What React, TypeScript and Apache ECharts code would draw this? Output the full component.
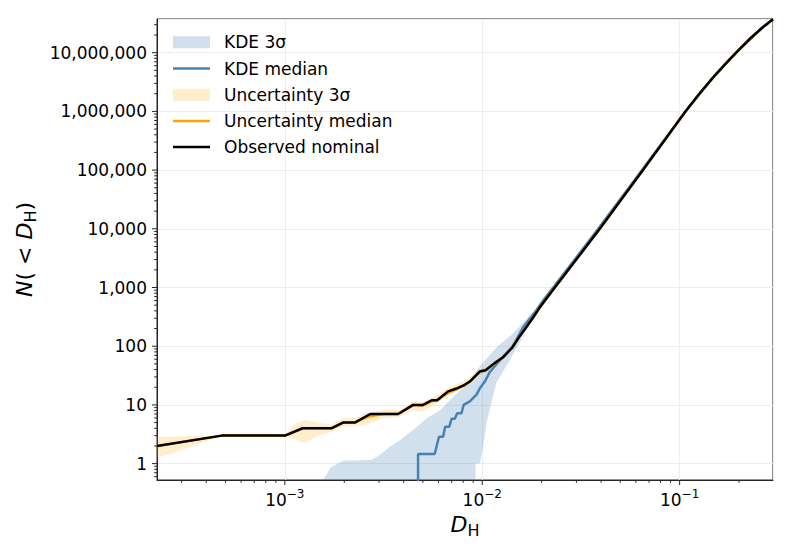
import React, { useEffect, useRef } from "react";
import * as echarts from "echarts";

const FONT = "DejaVu Sans";

// Observed nominal
const obsD = [2.25e-4, 4.79e-4, 1.0e-3, 1.23e-3, 1.72e-3, 1.97e-3, 2.26e-3, 2.71e-3, 3.75e-3, 4.47e-3, 5.01e-3, 5.55e-3, 5.91e-3, 6.71e-3, 7.4e-3, 8.15e-3, 8.65e-3, 9.71e-3, 1.04e-2, 1.16e-2, 1.27e-2, 1.42e-2, 1.53e-2, 1.67e-2, 1.8e-2, 1.95e-2, 2.33e-2, 3.94e-2, 6.52e-2, 0.0832, 0.107, 0.1259, 0.1479, 0.1738, 0.1995, 0.2291, 0.263, 0.2972];
const obsN = [2, 3, 3, 4, 4, 5, 5, 7, 7, 10, 10, 12, 12, 17, 19, 22, 25, 37, 39, 52, 64, 95, 140, 210, 300, 450, 1000, 1e4, 1e5, 3.1e5, 1e6, 2.0e6, 3.8e6, 6.92e6, 1.12e7, 1.78e7, 2.69e7, 3.72e7];

// Uncertainty median
const uncMedD = [2.25e-4, 4.79e-4, 1.0e-3, 1.23e-3, 1.72e-3, 1.97e-3, 2.26e-3, 2.64e-3, 3.15e-3, 3.75e-3, 4.47e-3, 5.01e-3, 5.55e-3, 5.91e-3, 6.71e-3, 7.4e-3, 8.15e-3, 8.65e-3, 9.71e-3, 1.04e-2, 1.16e-2, 1.27e-2, 1.42e-2, 1.53e-2, 1.67e-2, 1.8e-2, 1.95e-2, 2.33e-2, 3.94e-2, 6.52e-2, 0.0832, 0.107, 0.1259, 0.1479, 0.1738, 0.1995, 0.2291, 0.263, 0.2972];
const uncMedN = [2, 3, 3, 4, 4, 5, 5, 6.3, 7, 7, 10, 9.8, 11.5, 12, 16, 18.5, 22, 25, 37, 39, 52, 64, 95, 140, 210, 300, 450, 1000, 1e4, 1e5, 3.1e5, 1e6, 2.0e6, 3.8e6, 6.92e6, 1.12e7, 1.78e7, 2.69e7, 3.72e7];

// Uncertainty 3 sigma band
const uncBandD = [2.25e-4, 3.3e-4, 4.79e-4, 1.0e-3, 1.12e-3, 1.26e-3, 1.47e-3, 1.72e-3, 1.97e-3, 2.26e-3, 2.59e-3, 3.15e-3, 3.82e-3, 4.47e-3, 5.01e-3, 5.86e-3, 6.84e-3, 8.31e-3, 9.48e-3, 1.04e-2, 1.27e-2, 1.67e-2, 2.33e-2, 3.94e-2, 6.52e-2, 0.107, 0.1479, 0.1995, 0.263, 0.2972];
const uncUpper = [2.85, 2.95, 3.0, 3.0, 4.8, 5.5, 5.0, 4.6, 5.9, 6.0, 7.2, 8.2, 8.2, 11.3, 11.3, 14.7, 20.4, 26.6, 38, 44, 70, 225, 1060, 1.02e4, 1.01e5, 1.0e6, 3.8e6, 1.12e7, 2.69e7, 3.72e7];
const uncLower = [1.26, 1.9, 3.0, 3.0, 2.6, 2.24, 3.0, 3.5, 4.25, 4.3, 4.6, 5.9, 6.3, 8.2, 7.7, 10.6, 14.7, 20.4, 31, 35, 58, 195, 950, 0.98e4, 0.99e5, 1.0e6, 3.8e6, 1.12e7, 2.69e7, 3.72e7];

// KDE 3 sigma band
const kdeUpperD = [1.42e-3, 1.71e-3, 1.97e-3, 2.72e-3, 3.03e-3, 3.4e-3, 3.69e-3, 4.15e-3, 4.66e-3, 5.23e-3, 6.09e-3, 7.09e-3, 8.35e-3, 9.71e-3, 1.18e-2, 1.43e-2, 1.74e-2, 2.07e-2, 2.47e-2, 3.94e-2, 6.52e-2, 0.107, 0.1479, 0.1995, 0.263, 0.2972];
const kdeUpperN = [0.3, 0.87, 1.12, 1.15, 1.4, 1.94, 2.3, 3.1, 4.2, 5.9, 8, 13.5, 22, 45, 95, 165, 330, 600, 1300, 1.1e4, 1.06e5, 1.02e6, 3.85e6, 1.13e7, 2.7e7, 3.72e7];
const kdeLowerD = [1.42e-3, 9.16e-3, 9.27e-3, 9.71e-3, 9.83e-3, 1.01e-2, 1.05e-2, 1.12e-2, 1.18e-2, 1.38e-2, 1.61e-2, 1.88e-2, 2.2e-2, 2.47e-2, 3.94e-2, 6.52e-2, 0.107, 0.1479, 0.1995, 0.263, 0.2972];
const kdeLowerN = [0.1, 0.1, 1.0, 1.0, 1.2, 1.9, 4.9, 12, 24, 58, 146, 415, 750, 1150, 0.95e4, 0.97e5, 0.98e6, 3.75e6, 1.11e7, 2.68e7, 3.72e7];

// KDE median
const kdeMedD = [4.73e-3, 4.73e-3, 5.74e-3, 6.04e-3, 6.33e-3, 6.49e-3, 6.81e-3, 6.99e-3, 7.26e-3, 7.47e-3, 7.85e-3, 8.05e-3, 8.65e-3, 9.35e-3, 9.71e-3, 1.03e-2, 1.09e-2, 1.23e-2, 1.43e-2, 1.61e-2, 1.88e-2, 2.07e-2, 2.33e-2, 3.94e-2, 6.52e-2, 0.107, 0.1479, 0.1995, 0.263, 0.2972];
const kdeMedN = [0.1, 1.46, 1.46, 2.87, 2.87, 4.25, 4.25, 5.8, 5.8, 7.2, 7.2, 10, 11.5, 15, 19, 25, 36, 58, 100, 210, 410, 650, 1080, 1.08e4, 1.05e5, 1.0e6, 3.8e6, 1.12e7, 2.69e7, 3.72e7];

const legendLabels = ["KDE 3σ", "KDE median", "Uncertainty 3σ", "Uncertainty median", "Observed nominal"];

const X_MIN = 2.25e-4;
const X_MAX = 0.2972;
const Y_MIN = 0.526;
const Y_MAX = 3.75e7;

const KDE_COLOR = "#4682b4";
const KDE_FILL = "rgba(70,130,180,0.25)";
const UNC_COLOR = "#ffa500";
const UNC_FILL = "rgba(255,165,0,0.2)";
const AX = "#262626";
const LW = 2.5;

function logTicks(min: number, max: number) {
  const out: number[][] = [];
  for (let e = Math.floor(Math.log10(min)); e <= Math.ceil(Math.log10(max)); e++) {
    for (let k = 1; k < 10; k++) {
      const v = k * Math.pow(10, e);
      if (v < min * 1.0001 || v > max * 0.9999) continue;
      out.push([v, k === 1 ? 5 : 2.8]);
    }
  }
  return out;
}

function isPow10(v: number) {
  const e = Math.log10(v);
  return Math.abs(e - Math.round(e)) < 1e-6;
}

function bandRender(uD: number[], uN: number[], lD: number[], lN: number[], fill: string) {
  return (params: any, api: any) => {
    if (params.dataIndex !== 0) return null;
    const pts: number[][] = [];
    for (let i = 0; i < uD.length; i++) pts.push(api.coord([uD[i], uN[i]]));
    for (let i = lD.length - 1; i >= 0; i--) pts.push(api.coord([lD[i], lN[i]]));
    const cs = params.coordSys;
    return {
      type: "group",
      children: [{ type: "polygon", shape: { points: pts }, style: { fill, stroke: null } }],
      clipPath: { type: "rect", shape: { x: cs.x, y: cs.y, width: cs.width, height: cs.height } },
    };
  };
}

export default function App() {
  const ref = useRef<HTMLDivElement>(null);
  useEffect(() => {
    if (!ref.current) return;
    const chart = echarts.init(ref.current, null, { renderer: "svg" });
    const xt = logTicks(X_MIN, X_MAX);
    const yt = logTicks(Y_MIN, Y_MAX);
    const legX = 173;
    const legY0 = 42.3;
    const legDy = 26.2;
    const legendGraphics: any[] = [];
    legendLabels.forEach((lab, i) => {
      const cy = legY0 + i * legDy;
      if (i === 0 || i === 2) {
        legendGraphics.push({ type: "rect", shape: { x: legX, y: cy - 6, width: 37, height: 12 }, style: { fill: i === 0 ? KDE_FILL : UNC_FILL }, z: 100 });
      } else {
        const c = i === 1 ? KDE_COLOR : i === 3 ? UNC_COLOR : "#000";
        legendGraphics.push({ type: "line", shape: { x1: legX, y1: cy, x2: legX + 37, y2: cy }, style: { stroke: c, lineWidth: LW }, z: 100 });
      }
      legendGraphics.push({ type: "text", x: 224, y: cy, style: { text: lab, fill: "#000", font: `17px "${FONT}"`, textVerticalAlign: "middle", textAlign: "left" }, z: 100 });
    });

    const nameRich = {
      i: { fontSize: 22, fontStyle: "italic", fontFamily: FONT, color: "#000" },
      s: { fontSize: 16, fontFamily: FONT, color: "#000", padding: [12, 0, 0, 0] },
    };

    chart.setOption({
      animation: false,
      backgroundColor: "#fff",
      textStyle: { fontFamily: FONT },
      grid: { left: 157, right: 20, top: 19, bottom: 75, show: true, borderColor: AX, borderWidth: 1, backgroundColor: "transparent" },
      xAxis: {
        type: "log",
        logBase: 10,
        min: X_MIN,
        max: X_MAX,
        splitNumber: 10,
        axisLine: { show: true, lineStyle: { color: AX, width: 1 } },
        axisTick: { show: false },
        splitLine: { show: true, lineStyle: { color: "#ededed", width: 1 } },
        axisLabel: {
          margin: 8,
          fontSize: 17,
          fontFamily: FONT,
          color: "#000",
          formatter: (v: number) => {
            if (!isPow10(v)) return "";
            const r = Math.round(Math.log10(v));
            return "10{sup|" + (r < 0 ? "\u2212" + -r : String(r)) + "}";
          },
          rich: { sup: { fontSize: 12, fontFamily: FONT, color: "#000", padding: [0, 0, 12, 0] } },
        },
        name: "{i|D}{s|H}",
        nameLocation: "middle",
        nameGap: 28,
        nameTextStyle: { fontSize: 22, fontFamily: FONT, color: "#000", rich: nameRich },
      },
      yAxis: {
        type: "log",
        logBase: 10,
        min: Y_MIN,
        max: Y_MAX,
        splitNumber: 10,
        axisLine: { show: true, lineStyle: { color: AX, width: 1 } },
        axisTick: { show: false },
        splitLine: { show: true, lineStyle: { color: "#ededed", width: 1 } },
        axisLabel: {
          margin: 10,
          fontSize: 17,
          fontFamily: FONT,
          color: "#000",
          formatter: (v: number) => (isPow10(v) ? Math.round(v).toLocaleString("en-US") : ""),
        },
        name: "{i|N}( < {i|D}{s|H})",
        nameLocation: "middle",
        nameRotate: 90,
        nameGap: 109,
        nameTextStyle: { fontSize: 22, fontFamily: FONT, color: "#000", rich: nameRich },
      },
      graphic: legendGraphics,
      series: [
        {
          type: "custom",
          name: "KDE 3σ",
          silent: true,
          renderItem: bandRender(kdeUpperD, kdeUpperN, kdeLowerD, kdeLowerN, KDE_FILL),
          data: [[1e-2, 10]],
          z: 1,
        },
        {
          type: "line",
          name: "KDE median",
          data: kdeMedD.map((d, i) => [d, kdeMedN[i]]),
          showSymbol: false,
          symbol: "none",
          lineStyle: { color: KDE_COLOR, width: LW },
          itemStyle: { color: KDE_COLOR },
          clip: true,
          z: 2,
        },
        {
          type: "custom",
          name: "Uncertainty 3σ",
          silent: true,
          renderItem: bandRender(uncBandD, uncUpper, uncBandD, uncLower, UNC_FILL),
          data: [[1e-2, 10]],
          z: 3,
        },
        {
          type: "line",
          name: "Uncertainty median",
          data: uncMedD.map((d, i) => [d, uncMedN[i]]),
          showSymbol: false,
          symbol: "none",
          lineStyle: { color: UNC_COLOR, width: LW },
          itemStyle: { color: UNC_COLOR },
          clip: true,
          z: 4,
        },
        {
          type: "line",
          name: "Observed nominal",
          data: obsD.map((d, i) => [d, obsN[i]]),
          showSymbol: false,
          symbol: "none",
          lineStyle: { color: "#000", width: LW },
          itemStyle: { color: "#000" },
          clip: true,
          z: 5,
        },
        {
          type: "custom",
          silent: true,
          data: xt.map((t) => [t[0], Y_MIN, t[1]]),
          renderItem: (params: any, api: any) => {
            const p = api.coord([api.value(0), Y_MIN]);
            const len = api.value(2);
            return { type: "line", shape: { x1: p[0], y1: p[1], x2: p[0], y2: p[1] + len }, style: { stroke: AX, lineWidth: 1 } };
          },
          z: 6,
        },
        {
          type: "custom",
          silent: true,
          data: yt.map((t) => [X_MIN, t[0], t[1]]),
          renderItem: (params: any, api: any) => {
            const p = api.coord([X_MIN, api.value(1)]);
            const len = api.value(2);
            return { type: "line", shape: { x1: p[0], y1: p[1], x2: p[0] - len, y2: p[1] }, style: { stroke: AX, lineWidth: 1 } };
          },
          z: 6,
        },
      ],
    });
    return () => chart.dispose();
  }, []);
  return <div ref={ref} style={{ position: "absolute", left: 0, top: 0, width: 793, height: 555 }} />;
}
